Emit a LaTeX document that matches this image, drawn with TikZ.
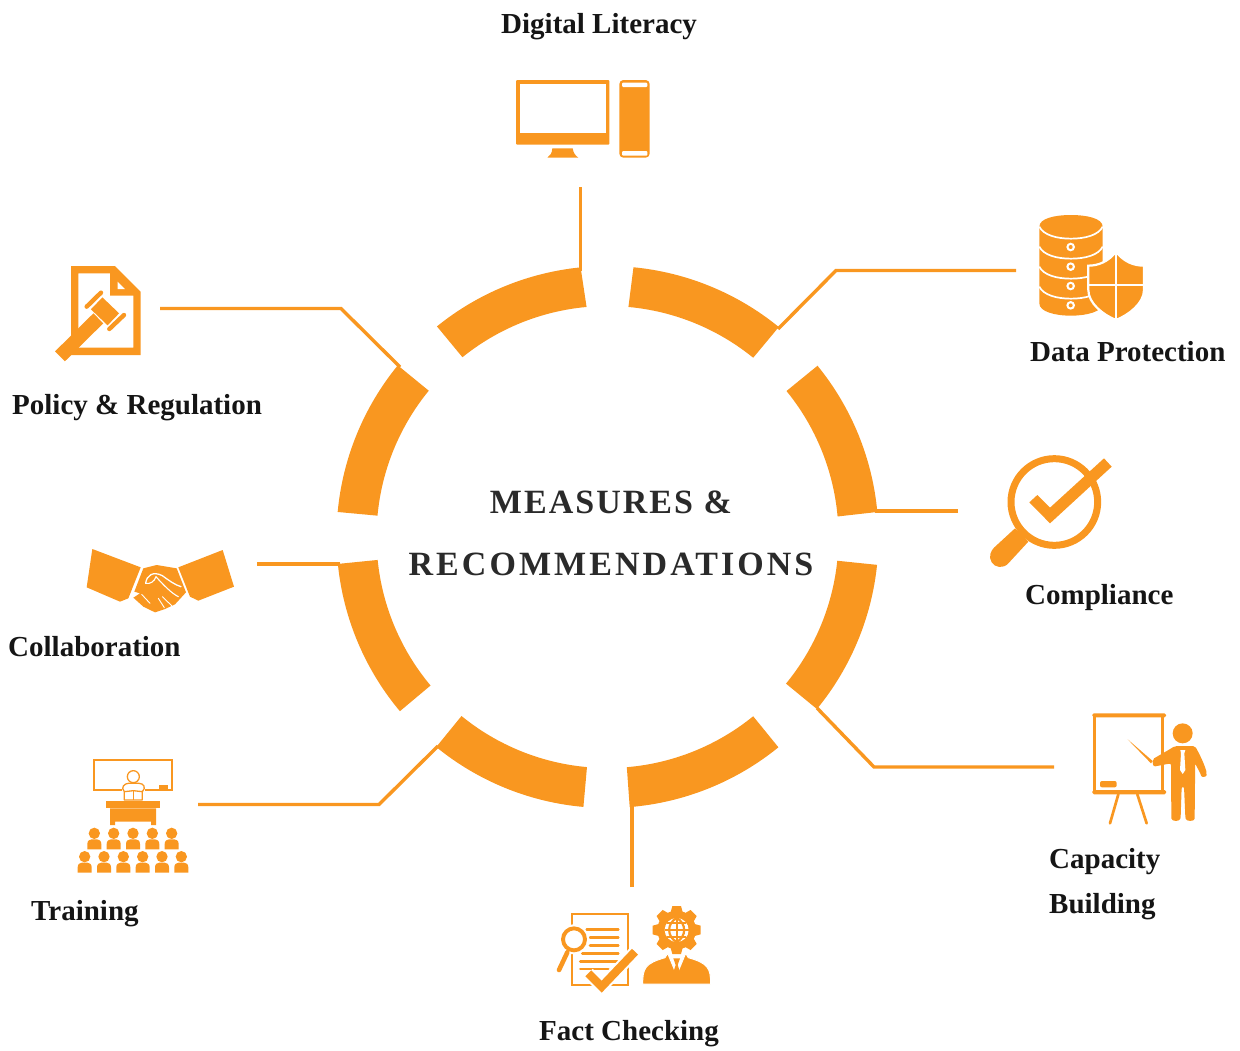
\documentclass[tikz,border=0pt]{standalone}
\usepackage{fontspec}
\setmainfont{Liberation Serif}
\newfontfamily\ctrfont[LetterSpace=6]{Liberation Serif}
\newfontfamily\ctrfontb[LetterSpace=9]{Liberation Serif}
\definecolor{org}{HTML}{F99720}
\definecolor{ink}{HTML}{151515}
\definecolor{ctrink}{HTML}{2A2A2A}
\newcommand{\ringseg}[4]{\fill[org] (#1:271) arc[start angle=#1,end angle=#2,radius=271] -- (#3:231) arc[start angle=#3,end angle=#4,radius=231] -- cycle;}
\tikzset{
  lbl/.style={font=\fontsize{29}{29}\selectfont\bfseries,text=ink,inner sep=0pt,anchor=base west},
  ctr/.style={font=\fontsize{34}{34}\selectfont\ctrfont\bfseries,text=ctrink,inner sep=0pt,anchor=base},
  ctrb/.style={font=\fontsize{34}{34}\selectfont\ctrfontb\bfseries,text=ctrink,inner sep=0pt,anchor=base},
  conn/.style={draw=org,line width=3.4pt},
  zoomed/.style={shift={#1},x=0.33333pt,y=-0.33333pt},
  wl/.style={draw=white},
}
\begin{document}
\begin{tikzpicture}[x=1pt,y=-1pt]
\useasboundingbox (0,0) rectangle (1240,1050);
% ring
\begin{scope}[shift={(607.5,537)},x=1pt,y=1pt]
\ringseg{95.7}{129}{128.9}{95.2}
\ringseg{84.5}{50.8}{50.9}{84.8}
\ringseg{39.2}{5.3}{5.1}{39.2}
\ringseg{-5.9}{-39.4}{-39.4}{-5.9}
\ringseg{-50.9}{-85.3}{-85.2}{-50.9}
\ringseg{-95.1}{-129.2}{-129.2}{-95.1}
\ringseg{-140}{-174.3}{-174.3}{-140}
\ringseg{174.7}{140.7}{140.7}{174.7}
\end{scope}
\coordinate (rDL) at (580.5,271);
\coordinate (rDP) at (778,329);
\coordinate (rCO) at (875,511);
\coordinate (rCB) at (817,708);
\coordinate (rFC) at (632,804);
\coordinate (rTR) at (438,746);
\coordinate (rCL) at (340,564);
\coordinate (rPR) at (400,367);
\coordinate (iDL) at (580.5,187);
\coordinate (iDP) at (1016,270.5);
\coordinate (kDP) at (836,270.5);
\coordinate (iCO) at (958,511);
\coordinate (iCB) at (1054,767);
\coordinate (kCB) at (874,767);
\coordinate (iFC) at (632,887);
\coordinate (iTR) at (198,804.5);
\coordinate (kTR) at (379,804.5);
\coordinate (iCL) at (257,564);
\coordinate (iPR) at (160,308.5);
\coordinate (kPR) at (341,308.5);
\draw[conn] (iDL) -- (rDL);
\draw[conn] (iDP) -- (kDP) -- (rDP);
\draw[conn] (iCO) -- (rCO);
\draw[conn] (iCB) -- (kCB) -- (rCB);
\draw[conn] (iFC) -- (rFC);
\draw[conn] (iTR) -- (kTR) -- (rTR);
\draw[conn] (iCL) -- (rCL);
\draw[conn] (iPR) -- (kPR) -- (rPR);
% labels
\node[ctr] (t1) at (611,513) {MEASURES \&};
\node[ctrb] (t2) at (611,575) {RECOMMENDATIONS};
\node[lbl] (lDL) at (501,33) {Digital Literacy};
\node[lbl] (lDP) at (1030,361) {Data Protection};
\node[lbl] (lCO) at (1025,604) {Compliance};
\node[lbl] (lCB1) at (1049,868) {Capacity};
\node[lbl] (lCB2) at (1049,913) {Building};
\node[lbl] (lFC) at (539,1040) {Fact Checking};
\node[lbl] (lTR) at (31,920) {Training};
\node[lbl] (lCL) at (8,656) {Collaboration};
\node[lbl] (lPR) at (12,414) {Policy \& Regulation};
% computer
\begin{scope}[zoomed={(490,60)}]
\fill[org,rounded corners=1pt] (78,60) rectangle (358,254);
\fill[white] (90,72) rectangle (347,220);
\fill[org] (187,265) -- (248,265) .. controls (250,280) and (258,288) .. (265,293) -- (172,293) .. controls (180,288) and (186,280) .. (187,265) -- cycle;
\fill[org,rounded corners=4pt] (388,60) rectangle (479,293);
\fill[white,rounded corners=1pt] (396,68) rectangle (472,81);
\fill[white,rounded corners=1pt] (396,273) rectangle (472,287);
\end{scope}
% database + shield
\begin{scope}[zoomed={(1020,200)}]
\fill[org] (58,80) .. controls (58,55) and (105,45) .. (153,45) .. controls (200,45) and (248,55) .. (248,80) -- (248,310) .. controls (248,335) and (200,347) .. (153,347) .. controls (105,347) and (58,335) .. (58,310) -- cycle;
\foreach \yy in {80,140,200,260}{
\draw[wl,line width=1.7pt] (58,\yy) .. controls (70,\yy+25) and (110,\yy+36) .. (153,\yy+36) .. controls (196,\yy+36) and (236,\yy+25) .. (248,\yy);
}
\foreach \yy in {141,200,258,316}{
\fill[white] (152,\yy) circle[x radius=13,y radius=13];
\fill[org] (152,\yy) circle[x radius=6,y radius=6];
}
\path[fill=org,draw=white,line width=2.2pt] (288,155) .. controls (265,185) and (235,197) .. (205,197) -- (205,270) .. controls (205,310) and (250,345) .. (288,360) .. controls (326,345) and (372,310) .. (372,270) -- (372,197) .. controls (341,197) and (311,185) .. (288,155) -- cycle;
\draw[wl,line width=1.7pt] (288,155) -- (288,360);
\draw[wl,line width=1.7pt] (205,255) -- (372,255);
\end{scope}
% policy
\begin{scope}[zoomed={(40,255)}]
\fill[org,even odd rule] (93,33) -- (225,33) -- (302,110) -- (302,300) -- (93,300) -- cycle
 (115,55) -- (115,278) -- (280,278) -- (280,122) -- (210,122) -- (210,55) -- cycle;
\fill[org] (228,68) -- (265,105) -- (228,105) -- cycle;
\fill[white] (233,80) -- (255,102) -- (233,102) -- cycle;
\draw[org,line width=14pt] (60,304) -- (175,190);
\draw[org,line width=16.6pt] (170,145) -- (220,193);
\draw[white,line width=8pt] (143,152) -- (186,110);
\draw[white,line width=8pt] (208,226) -- (254,180);
\draw[org,line width=4.4pt,line cap=round] (140,155) -- (183,113);
\draw[org,line width=4.4pt,line cap=round] (208,222) -- (252,180);
\end{scope}
% compliance
\begin{scope}[zoomed={(980,445)}]
\draw[org,line width=7pt] (223,171) circle[x radius=130,y radius=130];
\fill[org] (105,250) -- (145,290) -- (85,355) .. controls (70,372) and (45,368) .. (35,352) .. controls (25,335) and (32,318) .. (42,308) -- cycle;
\fill[org] (148,172) -- (172,150) -- (210,188) -- (372,40) -- (395,65) -- (210,235) -- cycle;
\end{scope}
% handshake
\begin{scope}[zoomed={(75,535)}]
\fill[org] (52,42) -- (197,97) -- (160,190) -- (135,200) -- (35,157) -- cycle;
\fill[org] (310,97) -- (443,45) -- (477,155) -- (370,197) -- (345,185) -- cycle;
\fill[org] (205,100) -- (245,90) -- (305,100) -- (333,172) -- (300,208) -- (270,222) -- (240,232) -- (205,215) -- (175,188) -- (195,175) -- (178,170) -- cycle;
\draw[wl,line width=1.3pt,line join=round,line cap=round] (212,145) .. controls (215,120) and (235,108) .. (262,122) .. controls (280,135) and (300,150) .. (318,155);
\draw[wl,line width=1.1pt,line cap=round] (212,145) .. controls (225,148) and (238,140) .. (243,125);
\draw[wl,line width=1.1pt,line cap=round] (243,125) .. controls (265,150) and (290,175) .. (310,185);
\draw[wl,line width=0.9pt,line cap=round] (262,185) -- (290,212);
\draw[wl,line width=0.9pt,line cap=round] (250,190) -- (268,218);
\draw[wl,line width=0.9pt,line cap=round] (200,178) -- (225,205);
\end{scope}
% training
\begin{scope}[zoomed={(65,750)}]
\draw[org,line width=2.3pt] (88,30) rectangle (320,119);
\fill[org] (282,105) rectangle (310,118);
\fill[white] (170,95) rectangle (240,155);
\draw[org,line width=1.3pt] (205,80) circle[x radius=18,y radius=18];
\draw[org,line width=1.3pt,line join=round] (178,150) -- (178,125) .. controls (165,112) and (180,100) .. (190,100) -- (222,100) .. controls (235,100) and (245,112) .. (232,125) -- (232,150) -- cycle;
\draw[org,line width=1.3pt] (178,125) -- (205,122) -- (232,125);
\draw[org,line width=1.3pt] (205,122) -- (205,150);
\fill[org] (123,153) rectangle (285,175);
\fill[org] (135,175) -- (273,175) -- (273,225) -- (258,225) -- (258,215) -- (150,215) -- (150,225) -- (135,225) -- cycle;
\foreach \xx in {88,146,204,262,320}{
\fill[org] (\xx,250) circle[x radius=17,y radius=17];
\fill[org] (\xx-21,298) -- (\xx-21,282) .. controls (\xx-21,272) and (\xx-14,268) .. (\xx-8,268) -- (\xx+8,268) .. controls (\xx+14,268) and (\xx+21,272) .. (\xx+21,282) -- (\xx+21,298) -- cycle;
}
\foreach \xx in {59,117,175,233,291,349}{
\fill[org] (\xx,320) circle[x radius=17,y radius=17];
\fill[org] (\xx-21,368) -- (\xx-21,352) .. controls (\xx-21,342) and (\xx-14,338) .. (\xx-8,338) -- (\xx+8,338) .. controls (\xx+14,338) and (\xx+21,342) .. (\xx+21,352) -- (\xx+21,368) -- cycle;
}
\end{scope}
% fact checking
\begin{scope}[zoomed={(545,895)}]
\draw[org,line width=1.7pt] (80,57) rectangle (248,270);
\draw[org,line width=2.7pt,line cap=round] (125,103) -- (220,103);
\draw[org,line width=2.7pt,line cap=round] (135,127) -- (220,127);
\draw[org,line width=2.7pt,line cap=round] (135,152) -- (220,152);
\draw[org,line width=2.7pt,line cap=round] (112,176) -- (220,176);
\draw[org,line width=2.7pt,line cap=round] (106,199) -- (220,199);
\draw[org,line width=2.7pt,line cap=round] (106,222) -- (190,222);
\draw[white,fill=white,line width=2pt] (87,133) circle[x radius=42,y radius=42];
\draw[org,fill=white,line width=3.9pt] (87,133) circle[x radius=33,y radius=33];
\draw[white,line width=7pt] (67,176) -- (42,225);
\draw[org,line width=4.6pt,line cap=round] (67,172) -- (42,225);
\draw[white,line width=12.5pt,line join=miter] (130,235) -- (170,275) -- (270,170);
\draw[org,line width=8.3pt,line join=miter] (130,235) -- (170,275) -- (270,170);
% gear
\foreach \a in {0,45,...,315}{
\fill[org,shift={(395,105)},rotate=\a] (-19,50) -- (-13,72) -- (13,72) -- (19,50) -- cycle;
}
\fill[org] (395,105) circle[x radius=58,y radius=58];
\fill[white] (395,105) circle[x radius=36,y radius=36];
\draw[org,line width=2.2pt] (395,69) -- (395,141);
\draw[org,line width=2.2pt] (395,69) .. controls (365,85) and (365,125) .. (395,141);
\draw[org,line width=2.2pt] (395,69) .. controls (425,85) and (425,125) .. (395,141);
\draw[org,line width=2.2pt] (359,105) -- (431,105);
\draw[org,line width=2.2pt] (366,85) -- (424,85);
\draw[org,line width=2.2pt] (366,125) -- (424,125);
% person
\draw[white,fill=org,line width=1pt] (293,267) .. controls (293,220) and (300,205) .. (360,188) -- (368,175) -- (395,240) -- (422,175) -- (430,188) .. controls (490,205) and (497,220) .. (497,267) -- cycle;
\fill[white] (378,186) -- (395,250) -- (412,186) -- (395,195) -- cycle;
\fill[org] (385,190) -- (405,190) -- (398,210) -- (408,240) -- (395,255) -- (382,240) -- (392,210) -- cycle;
\end{scope}
% capacity
\begin{scope}[zoomed={(1080,700)}]
\draw[org,line width=2.4pt] (44,46) rectangle (248,276);
\fill[org,rounded corners=1.5pt] (37,40) rectangle (258,52);
\fill[org,rounded corners=1.5pt] (37,270) rectangle (258,283);
\fill[org,rounded corners=2pt] (60,262) -- (60,243) -- (110,243) -- (110,262) -- cycle;
\draw[org,line width=2.7pt,line cap=round] (115,283) -- (90,370);
\draw[org,line width=2.7pt,line cap=round] (172,283) -- (200,370);
\fill[org] (143,118) -- (218,183) -- (213,190) -- cycle;
\fill[org] (308,100) circle[x radius=30,y radius=30];
\fill[org,rounded corners=2pt] (217,178) -- (262,152) -- (285,138) -- (345,138) .. controls (360,165) and (372,190) .. (381,220) .. controls (378,232) and (365,232) .. (362,222) -- (345,190) -- (345,250) -- (344,350) .. controls (344,365) and (318,365) .. (316,350) -- (312,260) -- (305,260) -- (302,350) .. controls (300,365) and (275,365) .. (274,350) -- (273,190) -- (220,200) -- cycle;
\fill[white] (301,150) -- (316,150) -- (313,160) -- (316,210) -- (308,222) -- (300,210) -- (303,160) -- cycle;
\end{scope}
\end{tikzpicture}
\end{document}
